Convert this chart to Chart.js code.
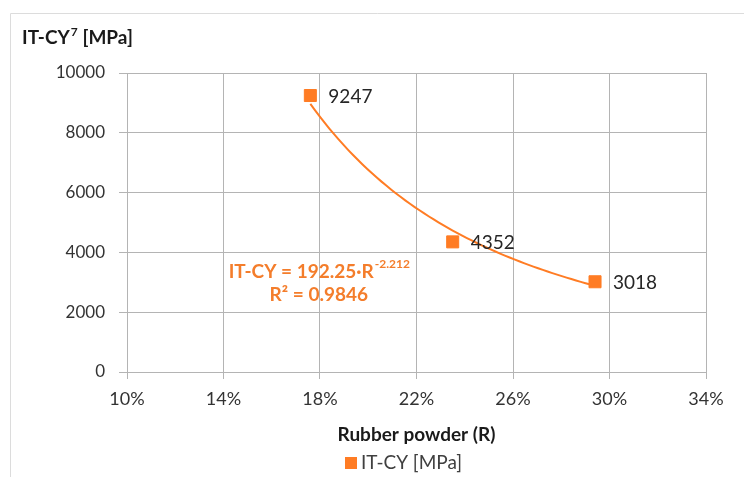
<!DOCTYPE html>
<html>
<head>
<meta charset="utf-8">
<script src="https://cdn.jsdelivr.net/npm/chart.js@4.4.0/dist/chart.umd.min.js"></script>
<style>
  html, body { margin: 0; padding: 0; background: #fff; }
  #wrap { width: 744px; height: 477px; }
</style>
</head>
<body>
<div id="wrap"><canvas id="grafico"></canvas></div>
<script>
// Datos medidos: contenido de polvo de caucho (fracción) y rigidez IT-CY
const polvoCaucho = [0.176, 0.235, 0.294];
const rigidezITCY = [9247, 4352, 3018];
const ticksX = [0.10, 0.14, 0.18, 0.22, 0.26, 0.30, 0.34];
const ticksY = [0, 2000, 4000, 6000, 8000, 10000];

// Línea de tendencia potencial: IT-CY = a·R^b
const coefA = 192.25;
const coefB = -2.212;
const r2 = 0.9846;

const naranja = '#ff7c24';
const naranjaTexto = '#f47d2b';
const fuente = 'Lato, "Open Sans", sans-serif';

// Puntos de la curva de tendencia entre el primer y el último dato
const tendencia = [];
const rMin = Math.min(...polvoCaucho), rMax = Math.max(...polvoCaucho);
for (let i = 0; i <= 60; i++) {
    const r = rMin + (rMax - rMin) * i / 60;
    tendencia.push({ x: r, y: coefA * Math.pow(r, coefB) });
}

// Marco, títulos, etiquetas de datos, ecuación y leyenda
const extras = {
    id: 'extras',
    beforeDraw(chart) {
        const ctx = chart.ctx;
        ctx.save();
        ctx.strokeStyle = '#dcdcdc';
        ctx.lineWidth = 1;
        ctx.beginPath();
        ctx.moveTo(10.5, 477);
        ctx.lineTo(10.5, 13.5);
        ctx.lineTo(744, 13.5);
        ctx.stroke();
        ctx.restore();
    },
    afterDatasetsDraw(chart) {
        const ctx = chart.ctx;
        const sx = chart.scales.x, sy = chart.scales.y;
        ctx.save();

        // Título del eje Y con superíndice
        ctx.fillStyle = '#1a1a1a';
        ctx.textBaseline = 'middle';
        ctx.textAlign = 'left';
        ctx.font = 'bold 19px ' + fuente;
        let x = 22;
        ctx.fillText('IT-CY', x, 38);
        x += ctx.measureText('IT-CY').width + 1;
        ctx.font = 'bold 12px ' + fuente;
        ctx.fillText('7', x, 32);
        x += ctx.measureText('7').width;
        ctx.font = 'bold 19px ' + fuente;
        ctx.fillText(' [MPa]', x, 38);

        // Etiquetas de valor a la derecha de cada marcador
        const meta = chart.getDatasetMeta(0);
        ctx.font = '19px ' + fuente;
        ctx.fillStyle = '#262626';
        meta.data.forEach((pt, i) => {
            ctx.fillText(String(rigidezITCY[i]), pt.x + 18, pt.y + 1);
        });

        // Ecuación de la tendencia y R²
        const cx = sx.getPixelForValue(0.1795);
        const y1 = sy.getPixelForValue(3340);
        const y2 = sy.getPixelForValue(2570);
        ctx.fillStyle = naranjaTexto;
        ctx.font = 'bold 19px ' + fuente;
        const base = 'IT-CY = ' + coefA.toFixed(2) + '·R';
        const sup = String(coefB);
        const wBase = ctx.measureText(base).width;
        ctx.font = 'bold 12px ' + fuente;
        const wSup = ctx.measureText(sup).width;
        const xs = cx - (wBase + wSup) / 2;
        ctx.font = 'bold 19px ' + fuente;
        ctx.fillText(base, xs, y1);
        ctx.font = 'bold 12px ' + fuente;
        ctx.fillText(sup, xs + wBase + 1, y1 - 8);
        ctx.font = 'bold 19px ' + fuente;
        ctx.textAlign = 'center';
        ctx.fillText('R² = ' + r2.toFixed(4), cx, y2);

        // Leyenda inferior
        const ds = chart.data.datasets[0];
        ctx.textAlign = 'left';
        ctx.fillStyle = naranja;
        ctx.fillRect(345, 457, 12, 12);
        ctx.fillStyle = '#404040';
        ctx.font = '19px ' + fuente;
        ctx.fillText(ds.label, 361, 463);
        ctx.restore();
    }
};

new Chart(document.getElementById('grafico'), {
    type: 'scatter',
    data: {
        datasets: [{
            label: 'IT-CY [MPa]',
            data: polvoCaucho.map((r, i) => ({ x: r, y: rigidezITCY[i] })),
            backgroundColor: naranja,
            borderColor: naranja,
            pointStyle: 'rect',
            pointRadius: 8.5,
            pointHoverRadius: 8.5,
            order: 0
        }, {
            label: 'tendencia',
            type: 'line',
            data: tendencia,
            borderColor: naranja,
            borderWidth: 2,
            pointRadius: 0,
            fill: false,
            tension: 0,
            order: 1
        }]
    },
    options: {
        responsive: true,
        maintainAspectRatio: false,
        animation: false,
        layout: { padding: { left: 0, top: 73, right: 38, bottom: 31 } },
        plugins: {
            tooltip: { enabled: false },
            legend: { display: false }
        },
        scales: {
            x: {
                type: 'linear',
                min: 0.10,
                max: 0.34,
                afterBuildTicks: s => { s.ticks = ticksX.map(v => ({ value: v })); },
                afterFit: s => { s.height = 74; },
                ticks: {
                    padding: 9,
                    color: '#333',
                    font: { family: fuente, size: 18 },
                    callback: v => Math.round(v * 100) + '%'
                },
                grid: { color: '#b4b4b4', tickLength: 7, tickColor: '#b4b4b4' },
                border: { color: '#b4b4b4' },
                title: {
                    display: true,
                    text: 'Rubber powder (R)',
                    color: '#1a1a1a',
                    font: { family: fuente, size: 19, weight: 'bold' },
                    padding: { top: 6, bottom: 0 }
                }
            },
            y: {
                min: 0,
                max: 10000,
                afterBuildTicks: s => { s.ticks = ticksY.map(v => ({ value: v })); },
                afterFit: s => { s.width = 127; },
                ticks: {
                    padding: 14,
                    color: '#333',
                    font: { family: fuente, size: 17 },
                    callback: v => String(v)
                },
                grid: { color: '#b4b4b4', tickLength: 8, tickColor: '#b4b4b4' },
                border: { color: '#b4b4b4' }
            }
        }
    },
    plugins: [extras]
});
</script>
</body>
</html>
